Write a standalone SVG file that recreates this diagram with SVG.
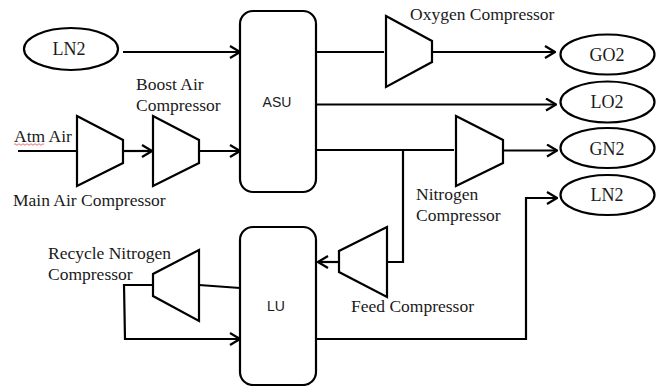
<svg xmlns="http://www.w3.org/2000/svg" width="662" height="386" viewBox="0 0 662 386">
<style>
.n{fill:#fff;stroke:#000;stroke-width:2.200;stroke-linejoin:miter}
.c{fill:none;stroke:#000;stroke-width:2.200}
.a{fill:none;stroke:#000;stroke-width:2.200;marker-end:url(#arr)}
text{font-family:"Liberation Serif",serif;font-size:17.500px;fill:#1a1a1a}
.s{font-family:"Liberation Sans",sans-serif;font-size:14px;text-anchor:middle}
.m{text-anchor:middle;font-size:18px}
</style>
<defs><marker id="arr" markerUnits="userSpaceOnUse" markerWidth="12" markerHeight="14" refX="11" refY="7" orient="auto"><path d="M1 1L11 7L1 13" fill="none" stroke="#000" stroke-width="2.200"/></marker></defs>
<rect width="662" height="386" fill="#fff"/>
<g id="connectors">
<path class="a" d="M123 52H240"/>
<path class="c" d="M18 151H77"/>
<path class="a" d="M123 151H152"/>
<path class="a" d="M199 151H240"/>
<path class="c" d="M316 52H384"/>
<path class="a" d="M432 52H555"/>
<path class="a" d="M316 104.500H556"/>
<path class="c" d="M316 150H454"/>
<path class="a" d="M503 150.500H557"/>
<path class="c" d="M403 150V262H387"/>
<path class="a" d="M339 262H318"/>
<path class="c" d="M199 285L240 288"/>
<path class="a" d="M153 285H124L125 339H240"/>
<path class="a" d="M316 339H526V198H557"/>
</g>
<g id="node-ln2-in"><ellipse class="n" cx="71" cy="49" rx="47" ry="21"/><text class="m" x="69" y="55">LN2</text></g>
<g id="node-asu"><rect class="n" x="240" y="11" width="76" height="181" rx="13"/><text class="s" x="277" y="107">ASU</text></g>
<g id="node-lu"><rect class="n" x="240" y="227" width="76" height="158" rx="13"/><text class="s" x="276" y="311">LU</text></g>
<g id="node-main-air"><path class="n" d="M77 116L123 140V163L77 186Z"/><text x="14" y="142">Atm Air</text><path d="M14 144.500q1-1.500 2 0t2 0t2 0t2 0t2 0t2 0t2 0t2 0t2 0t2 0t2 0t2 0t2 0t2 0t2 0" fill="none" stroke="#d33" stroke-width=".7"/><text x="13" y="206">Main Air Compressor</text></g>
<g id="node-boost-air"><path class="n" d="M153 116L199 140V163L153 186Z"/><text x="136" y="90">Boost Air</text><text x="136" y="111">Compressor</text></g>
<g id="node-oxygen"><path class="n" d="M386 16L432 41V62L386 87Z"/><text x="410" y="20">Oxygen Compressor</text></g>
<g id="node-nitrogen"><path class="n" d="M456 116L503 140V163L456 186Z"/><text x="416" y="200">Nitrogen</text><text x="416" y="221">Compressor</text></g>
<g id="node-feed"><path class="n" d="M387 227L339 251V272L387 297Z"/><text x="351" y="312">Feed Compressor</text></g>
<g id="node-recycle"><path class="n" d="M199 250L153 274V296L199 321Z"/><text x="48" y="259">Recycle Nitrogen</text><text x="48" y="280">Compressor</text></g>
<g id="node-go2"><ellipse class="n" cx="607.500" cy="54.500" rx="47" ry="20"/><text class="m" x="607" y="61">GO2</text></g>
<g id="node-lo2"><ellipse class="n" cx="607.500" cy="102" rx="47" ry="20.500"/><text class="m" x="607" y="108">LO2</text></g>
<g id="node-gn2"><ellipse class="n" cx="607.500" cy="148" rx="47" ry="20"/><text class="m" x="607" y="155">GN2</text></g>
<g id="node-ln2-out"><ellipse class="n" cx="607.500" cy="195" rx="47" ry="20"/><text class="m" x="607" y="201">LN2</text></g>
</svg>
